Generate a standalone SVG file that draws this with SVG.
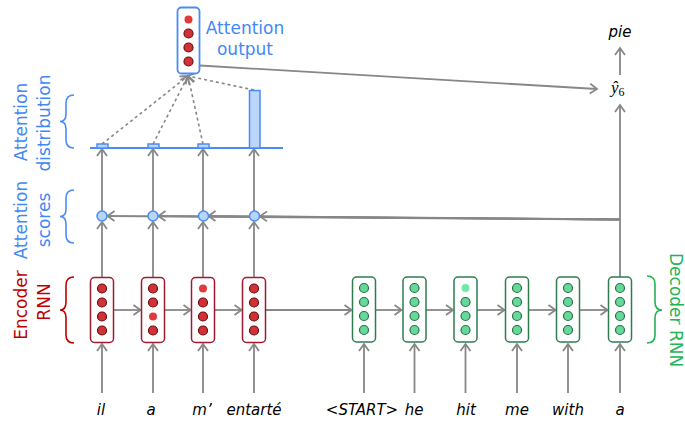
<svg xmlns="http://www.w3.org/2000/svg" width="685" height="421" viewBox="0 0 685 421">
<style>
.ln{stroke:#878787;stroke-width:1.8;fill:none}
.dot{stroke:#878787;stroke-width:1.6;fill:none;stroke-dasharray:3,3}
.ec{fill:#fff;stroke:#a01a30;stroke-width:1.5}
.dc{fill:#fff;stroke:#2d7d4f;stroke-width:1.5}
.ac{fill:#fff;stroke:#4a8cf7;stroke-width:1.8}
.ed{fill:#d23236;stroke:#6b0e12;stroke-width:1.2}
.el{fill:#e03c3c}
.dd{fill:#66d99a;stroke:#2a7048;stroke-width:1.2}
.dl{fill:#74e8a8}
.sc{fill:#b8d5fb;stroke:#4a8cf7;stroke-width:1.5}
.bar{fill:#bcd6fa;stroke:#4a8cf7;stroke-width:1.5}
.lbl{font-family:"DejaVu Sans",Verdana,sans-serif;font-size:17px}
.blue{fill:#3f88f5}
.red{fill:#c00000}
.green{fill:#22b455}
.w{font-family:"DejaVu Sans",Verdana,sans-serif;font-size:15px;font-style:italic;fill:#000;text-anchor:middle}
.br{fill:none;stroke-width:1.6}
</style>
<defs>
<marker id="ah" viewBox="-9 -7 11 14" refX="0" refY="0" markerWidth="11" markerHeight="14" markerUnits="userSpaceOnUse" orient="auto">
<path d="M-7,-5 L0,0 L-7,5" fill="none" stroke="#878787" stroke-width="1.8"/>
</marker>
</defs>

<g id="labels">
<text class="lbl blue" transform="translate(27,122) rotate(-90)" text-anchor="middle">Attention</text>
<text class="lbl blue" transform="translate(50,123) rotate(-90)" text-anchor="middle">distribution</text>
<text class="lbl blue" transform="translate(27,220) rotate(-90)" text-anchor="middle">Attention</text>
<text class="lbl blue" transform="translate(50,220) rotate(-90)" text-anchor="middle">scores</text>
<text class="lbl red" transform="translate(27,305) rotate(-90)" text-anchor="middle">Encoder</text>
<text class="lbl red" transform="translate(50,302) rotate(-90)" text-anchor="middle">RNN</text>
<text class="lbl green" transform="translate(670,253) rotate(90)">Decoder RNN</text>
<text class="lbl blue" x="245" y="34" text-anchor="middle">Attention</text>
<text class="lbl blue" x="245" y="55" text-anchor="middle">output</text>
<path class="br" stroke="#4a8cf7" d="M74,95 Q66,95 66,103 L66,114 Q66,121.5 60,121.5 Q66,121.5 66,129 L66,140 Q66,148 74,148"/>
<path class="br" stroke="#4a8cf7" d="M74,190 Q66,190 66,198 L66,209 Q66,216.5 60,216.5 Q66,216.5 66,224 L66,235 Q66,243 74,243"/>
<path class="br" stroke="#c00000" d="M74,277 Q66,277 66,285 L66,302 Q66,310 60,310 Q66,310 66,318 L66,335 Q66,343 74,343"/>
<path class="br" stroke="#22b455" d="M647,276 Q655,276 655,284 L655,302 Q655,310 662,310 Q655,310 655,318 L655,335 Q655,343 647,343"/>
</g>

<g id="connectors">
<line class="ln" x1="102" y1="393" x2="102" y2="344" marker-end="url(#ah)"/>
<line class="ln" x1="153" y1="393" x2="153" y2="344" marker-end="url(#ah)"/>
<line class="ln" x1="203" y1="393" x2="203" y2="344" marker-end="url(#ah)"/>
<line class="ln" x1="254" y1="393" x2="254" y2="344" marker-end="url(#ah)"/>
<line class="ln" x1="364" y1="393" x2="364" y2="344" marker-end="url(#ah)"/>
<line class="ln" x1="414.5" y1="393" x2="414.5" y2="344" marker-end="url(#ah)"/>
<line class="ln" x1="465.5" y1="393" x2="465.5" y2="344" marker-end="url(#ah)"/>
<line class="ln" x1="517" y1="393" x2="517" y2="344" marker-end="url(#ah)"/>
<line class="ln" x1="568" y1="393" x2="568" y2="344" marker-end="url(#ah)"/>
<line class="ln" x1="620" y1="393" x2="620" y2="344" marker-end="url(#ah)"/>
<line class="ln" x1="113.5" y1="310" x2="140.5" y2="310" marker-end="url(#ah)"/>
<line class="ln" x1="164.5" y1="310" x2="190.5" y2="310" marker-end="url(#ah)"/>
<line class="ln" x1="214.5" y1="310" x2="241.5" y2="310" marker-end="url(#ah)"/>
<line class="ln" x1="265.5" y1="310" x2="351.5" y2="310" marker-end="url(#ah)"/>
<line class="ln" x1="375.5" y1="310" x2="401.5" y2="310" marker-end="url(#ah)"/>
<line class="ln" x1="426" y1="310" x2="453" y2="310" marker-end="url(#ah)"/>
<line class="ln" x1="477" y1="310" x2="504.5" y2="310" marker-end="url(#ah)"/>
<line class="ln" x1="528.5" y1="310" x2="555.5" y2="310" marker-end="url(#ah)"/>
<line class="ln" x1="579.5" y1="310" x2="607.5" y2="310" marker-end="url(#ah)"/>
<line class="ln" x1="102" y1="277" x2="102" y2="222" marker-end="url(#ah)"/>
<line class="ln" x1="153" y1="277" x2="153" y2="222" marker-end="url(#ah)"/>
<line class="ln" x1="203" y1="277" x2="203" y2="222" marker-end="url(#ah)"/>
<line class="ln" x1="254" y1="277" x2="254" y2="222" marker-end="url(#ah)"/>
<polyline class="ln" points="620,277 620,219.5 260,216.3" marker-end="url(#ah)"/>
<line class="ln" x1="620" y1="219.5" x2="208.5" y2="216" marker-end="url(#ah)"/>
<line class="ln" x1="620" y1="219.5" x2="158.5" y2="216" marker-end="url(#ah)"/>
<line class="ln" x1="620" y1="219.5" x2="107.5" y2="216" marker-end="url(#ah)"/>
<line class="ln" x1="102" y1="211" x2="102" y2="149" marker-end="url(#ah)"/>
<line class="ln" x1="153" y1="211" x2="153" y2="149" marker-end="url(#ah)"/>
<line class="ln" x1="203" y1="211" x2="203" y2="149" marker-end="url(#ah)"/>
<line class="ln" x1="254" y1="211" x2="254" y2="149" marker-end="url(#ah)"/>
<line class="dot" x1="102" y1="144" x2="188" y2="76" marker-end="url(#ah)"/>
<line class="dot" x1="153" y1="144" x2="188" y2="76" marker-end="url(#ah)"/>
<line class="dot" x1="203" y1="144" x2="188" y2="76" marker-end="url(#ah)"/>
<line class="dot" x1="254" y1="90" x2="188" y2="76" marker-end="url(#ah)"/>
<line class="ln" x1="200" y1="65.5" x2="597" y2="89" marker-end="url(#ah)"/>
<line class="ln" x1="620" y1="219.5" x2="620" y2="105" marker-end="url(#ah)"/>
<line class="ln" x1="620" y1="75" x2="620" y2="48" marker-end="url(#ah)"/>
</g>

<g id="attention-distribution">
<line x1="90" y1="148" x2="283" y2="148" stroke="#4a8cf7" stroke-width="1.8"/>
<rect class="bar" x="97" y="144" width="11" height="4"/>
<rect class="bar" x="148" y="144" width="11" height="4"/>
<rect class="bar" x="198" y="144" width="11" height="4"/>
<rect class="bar" x="249.5" y="90.5" width="10.5" height="57.5"/>
</g>

<g id="attention-scores">
<circle class="sc" cx="102" cy="216" r="5"/>
<circle class="sc" cx="153" cy="216" r="5"/>
<circle class="sc" cx="203.5" cy="216" r="5"/>
<circle class="sc" cx="254.5" cy="216" r="5"/>
</g>

<g id="attention-output">
<rect class="ac" x="177.5" y="7.5" width="22" height="66" rx="4"/>
<circle class="el" cx="188.5" cy="19.5" r="4"/>
<circle class="ed" cx="188.5" cy="33.5" r="4.5"/>
<circle class="ed" cx="188.5" cy="47.5" r="4.5"/>
<circle class="ed" cx="188.5" cy="61.5" r="4.5"/>
</g>

<g id="enc1">
<rect class="ec" x="90.5" y="277.5" width="23" height="65" rx="4"/>
<circle class="ed" cx="102" cy="288.5" r="4.5"/><circle class="ed" cx="102" cy="302.5" r="4.5"/><circle class="ed" cx="102" cy="316.5" r="4.5"/><circle class="ed" cx="102" cy="330.5" r="4.5"/>
</g>
<g id="enc2">
<rect class="ec" x="141.5" y="277.5" width="23" height="65" rx="4"/>
<circle class="ed" cx="153" cy="288.5" r="4.5"/><circle class="ed" cx="153" cy="302.5" r="4.5"/><circle class="el" cx="153" cy="316.5" r="4"/><circle class="ed" cx="153" cy="330.5" r="4.5"/>
</g>
<g id="enc3">
<rect class="ec" x="191.5" y="277.5" width="23" height="65" rx="4"/>
<circle class="el" cx="203" cy="288.5" r="4"/><circle class="ed" cx="203" cy="302.5" r="4.5"/><circle class="ed" cx="203" cy="316.5" r="4.5"/><circle class="ed" cx="203" cy="330.5" r="4.5"/>
</g>
<g id="enc4">
<rect class="ec" x="242.5" y="277.5" width="23" height="65" rx="4"/>
<circle class="ed" cx="254" cy="288.5" r="4.5"/><circle class="ed" cx="254" cy="302.5" r="4.5"/><circle class="ed" cx="254" cy="316.5" r="4.5"/><circle class="ed" cx="254" cy="330.5" r="4.5"/>
</g>

<g id="dec1">
<rect class="dc" x="352.5" y="277" width="23" height="65" rx="4"/>
<circle class="dd" cx="364" cy="288" r="4.5"/><circle class="dd" cx="364" cy="302" r="4.5"/><circle class="dd" cx="364" cy="316" r="4.5"/><circle class="dd" cx="364" cy="330" r="4.5"/>
</g>
<g id="dec2">
<rect class="dc" x="403" y="277" width="23" height="65" rx="4"/>
<circle class="dd" cx="414.5" cy="288" r="4.5"/><circle class="dd" cx="414.5" cy="302" r="4.5"/><circle class="dd" cx="414.5" cy="316" r="4.5"/><circle class="dd" cx="414.5" cy="330" r="4.5"/>
</g>
<g id="dec3">
<rect class="dc" x="454" y="277" width="23" height="65" rx="4"/>
<circle class="dl" cx="465.5" cy="288" r="4"/><circle class="dd" cx="465.5" cy="302" r="4.5"/><circle class="dd" cx="465.5" cy="316" r="4.5"/><circle class="dd" cx="465.5" cy="330" r="4.5"/>
</g>
<g id="dec4">
<rect class="dc" x="505.5" y="277" width="23" height="65" rx="4"/>
<circle class="dd" cx="517" cy="288" r="4.5"/><circle class="dd" cx="517" cy="302" r="4.5"/><circle class="dd" cx="517" cy="316" r="4.5"/><circle class="dd" cx="517" cy="330" r="4.5"/>
</g>
<g id="dec5">
<rect class="dc" x="556.5" y="277" width="23" height="65" rx="4"/>
<circle class="dd" cx="568" cy="288" r="4.5"/><circle class="dd" cx="568" cy="302" r="4.5"/><circle class="dd" cx="568" cy="316" r="4.5"/><circle class="dd" cx="568" cy="330" r="4.5"/>
</g>
<g id="dec6">
<rect class="dc" x="608.5" y="277" width="23" height="65" rx="4"/>
<circle class="dd" cx="620" cy="288" r="4.5"/><circle class="dd" cx="620" cy="302" r="4.5"/><circle class="dd" cx="620" cy="316" r="4.5"/><circle class="dd" cx="620" cy="330" r="4.5"/>
</g>

<g id="yhat">
<text x="611" y="93" font-family="'Liberation Serif','Times New Roman',serif" font-size="17" font-style="italic" fill="#000">ŷ<tspan font-size="12" font-style="normal" dy="3">6</tspan></text>
</g>
<g id="output-word">
<text class="w" x="620" y="37">pie</text>
</g>

<g id="inputs">
<text class="w" x="101" y="415">il</text>
<text class="w" x="151" y="415">a</text>
<text class="w" x="202" y="415">m’</text>
<text class="w" x="254" y="415">entarté</text>
<text class="w" x="362" y="415">&lt;START&gt;</text>
<text class="w" x="414" y="415">he</text>
<text class="w" x="466" y="415">hit</text>
<text class="w" x="517" y="415">me</text>
<text class="w" x="568" y="415">with</text>
<text class="w" x="620" y="415">a</text>
</g>
</svg>
